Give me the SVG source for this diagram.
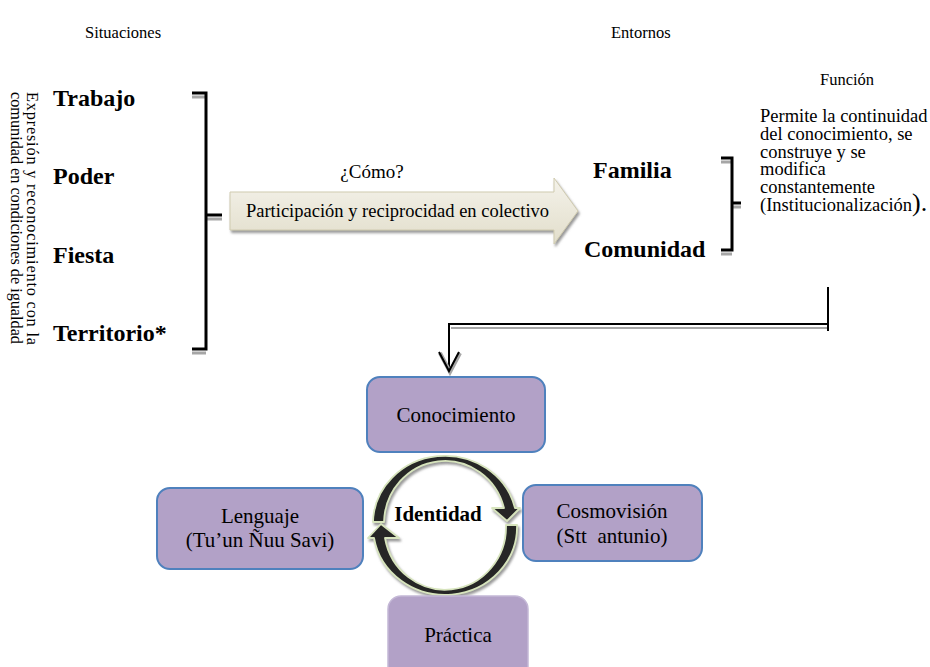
<svg xmlns="http://www.w3.org/2000/svg" width="930" height="667" viewBox="0 0 930 667">
<style>
text{font-family:"Liberation Serif","Times New Roman",serif;fill:#000}
.h{font-size:16.5px}
.b{font-size:24px;font-weight:bold}
.p{font-size:18.5px}
.bx{font-size:21px}
.box{fill:#B2A1C7;stroke:#4F81BD;stroke-width:2}
.ln{fill:none;stroke:#000;stroke-width:3}
.sh{fill:none;stroke:#A6A6A6;stroke-width:3}
.ring{fill:#262626;stroke:#D7E4BD;stroke-width:1.8;stroke-linejoin:round}
</style>
<defs>
<linearGradient id="ag" x1="0" y1="0" x2="0" y2="1">
<stop offset="0" stop-color="#F4F2EA"/>
<stop offset="1" stop-color="#E2DECB"/>
</linearGradient>
<filter id="ds" x="-10%" y="-10%" width="130%" height="130%">
<feDropShadow dx="1.5" dy="2.5" stdDeviation="1" flood-color="#7F7F7F" flood-opacity="0.8"/>
</filter>
</defs>
<rect width="930" height="667" fill="#fff"/>

<g id="headers">
<text class="h" x="85" y="38">Situaciones</text>
<text class="h" x="611" y="38">Entornos</text>
<text class="h" x="847" y="85" text-anchor="middle">Función</text>
</g>

<g id="vertical-note" style="font-size:16.3px">
<text transform="translate(27,92) rotate(90)" textLength="253" lengthAdjust="spacing">Expresión y reconocimiento con la</text>
<text transform="translate(11,92) rotate(90)" textLength="252" lengthAdjust="spacing">comunidad en condiciones de igualdad</text>
</g>

<g id="situaciones">
<text class="b" x="53" y="106">Trabajo</text>
<text class="b" x="53" y="184">Poder</text>
<text class="b" x="53" y="263">Fiesta</text>
<text class="b" x="53" y="341">Territorio*</text>
</g>

<g id="como">
<text x="372" y="178" text-anchor="middle" style="font-size:19px">¿Cómo?</text>
</g>

<g id="arrow-participacion">
<path d="M230,192 H554 V178 L578,211 L554,244 V230 H230 Z" fill="url(#ag)" stroke="#D0CBB0" stroke-width="1" filter="url(#ds)"/>
<text class="p" x="397.5" y="217" text-anchor="middle">Participación y reciprocidad en colectivo</text>
</g>

<g id="entornos">
<text class="b" x="593" y="178">Familia</text>
<text class="b" x="584" y="257">Comunidad</text>
</g>

<g id="funcion-text" class="p">
<text class="p" x="760" y="122">Permite la continuidad</text>
<text class="p" x="760" y="140">del conocimiento, se</text>
<text class="p" x="760" y="157.5">construye y se</text>
<text class="p" x="760" y="175">modifica</text>
<text class="p" x="760" y="193">constantemente</text>
<text class="p" x="760" y="211">(Institucionalización<tspan style="font-size:26px">).</tspan></text>
</g>

<g id="connectors">
<!-- left bracket -->
<path class="sh" d="M192,97 H206 M206,219 H222 M192,353 H206"/>
<path class="ln" d="M192,93 H206 V349 H192 M206,215 H222"/>
<!-- right bracket -->
<path class="sh" d="M721,162 H732 M732,207 H741 M721,254 H732"/>
<path class="ln" d="M721,158 H732 V250 H721 M732,203 H741"/>
<!-- connector from Función to Conocimiento -->
<path d="M451,328 H828" fill="none" stroke="#A6A6A6" stroke-width="2"/>
<path d="M828,287 V331 M828,324 H449 V371" fill="none" stroke="#000" stroke-width="2"/>
<path d="M439,352 L449,371 L459,352" fill="none" stroke="#A6A6A6" stroke-width="4" transform="translate(1,1)"/>
<path d="M439,352 L449,371 L459,352" fill="none" stroke="#000" stroke-width="2"/>
</g>

<g id="conocimiento">
<rect class="box" x="367" y="377" width="178" height="75" rx="13"/>
<text class="bx" x="456" y="422" text-anchor="middle">Conocimiento</text>
</g>

<g id="identidad-cycle" filter="url(#ds)">
<path class="ring" d="M373,522 A72,68 0 0 1 515,508 L520,508 L507,521 L492,508 L504,508 A61,63 0 0 0 384,522 Z"/>
<path class="ring" d="M517,525 A72,68 0 0 1 374,538 L368,538 L381,524 L399,538 L385,538 A61,63 0 0 0 506,525 Z"/>
</g>
<g id="identidad">
<text x="438" y="521" text-anchor="middle" style="font-size:21px;font-weight:bold">Identidad</text>
</g>

<g id="lenguaje">
<rect class="box" x="157" y="488" width="206" height="81" rx="13"/>
<text class="bx" x="260" y="523" text-anchor="middle">Lenguaje</text>
<text class="bx" x="260" y="547" text-anchor="middle">(Tu’un Ñuu Savi)</text>
</g>

<g id="cosmovision">
<rect class="box" x="523" y="485" width="179" height="76" rx="13"/>
<text class="bx" x="612" y="518" text-anchor="middle">Cosmovisión</text>
<text class="bx" x="612" y="543" text-anchor="middle" xml:space="preserve">(Stt  antunio)</text>
</g>

<g id="practica">
<rect x="388" y="596" width="140" height="90" rx="13" fill="#B2A1C7" stroke="#C4B8D6" stroke-width="1.5"/>
<text class="bx" x="458" y="642" text-anchor="middle">Práctica</text>
</g>
</svg>
